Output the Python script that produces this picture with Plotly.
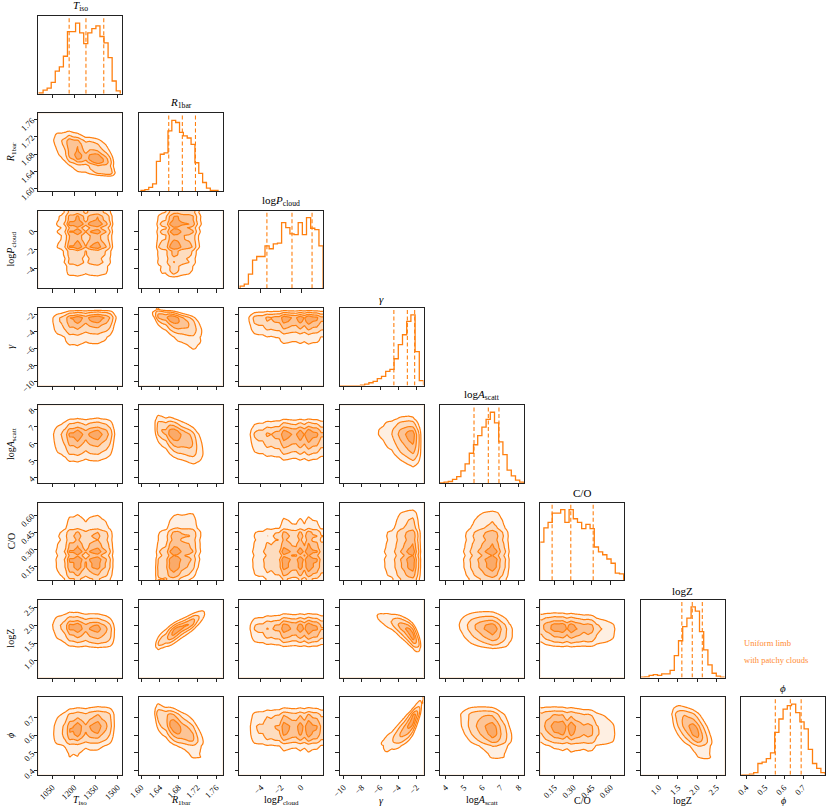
import math
import numpy as np
import plotly.graph_objects as go

ORANGE = "#ff7f0e"
FONT = "Liberation Serif, Times New Roman, serif"

# ---------------- data ----------------
param_labels = ["<i>T</i><sub>iso</sub>", "<i>R</i><sub>1bar</sub>", "log<i>P</i><sub>cloud</sub>",
                "<i>γ</i>", "log<i>A</i><sub>scatt</sub>", "C/O", "logZ", "<i>ϕ</i>"]

axis_ranges = [[953, 1533], [1.595, 1.774], [-6.17, 2.2], [-10.44, -1.23],
               [3.69, 8.27], [0.035, 0.71], [0.534, 2.71], [0.374, 0.816]]

tick_values = [[1050, 1200, 1350, 1500], [1.60, 1.64, 1.68, 1.72, 1.76], [-4, -2, 0],
               [-10, -8, -6, -4, -2], [4, 5, 6, 7, 8], [0.15, 0.30, 0.45, 0.60],
               [1.0, 1.5, 2.0, 2.5], [0.4, 0.5, 0.6, 0.7]]
tick_texts = [["1050", "1200", "1350", "1500"], ["1.60", "1.64", "1.68", "1.72", "1.76"],
              ["−4", "−2", "0"], ["−10", "−8", "−6", "−4", "−2"], ["4", "5", "6", "7", "8"],
              ["0.15", "0.30", "0.45", "0.60"], ["1.0", "1.5", "2.0", "2.5"],
              ["0.4", "0.5", "0.6", "0.7"]]

hist_ranges = [[958, 1519], [1.600, 1.764], [-6.07, 2.2], [-10.44, -1.23],
               [3.69, 8.27], [0.03, 0.705], [0.534, 2.71], [0.374, 0.816]]

hist_T = [1, 5, 8, 16, 32, 38, 53, 88, 88, 100, 86, 71, 86, 92, 96, 81, 72, 51, 18, 4]
hist_R = [1, 2, 5, 10, 42, 52, 54, 85, 100, 97, 83, 78, 75, 66, 40, 25, 12, 4, 1, 1]
hist_logP = [3, 6, 20, 40, 45, 45, 60, 56, 63, 64, 93, 86, 77, 76, 93, 76, 100, 85, 83, 60]
hist_gamma = [0, 0, 0, 0, 0, 0.5, 2, 4, 6, 10, 13, 20, 23, 38, 58, 72, 91, 100, 48, 7]
hist_logA = [0, 1, 2, 5, 9, 17, 27, 42, 54, 67, 79, 90, 100, 85, 58, 40, 18, 10, 4, 1]
hist_CO = [54, 74, 82, 95, 95, 100, 82, 100, 87, 82, 73, 79, 73, 47, 40, 36, 30, 24, 10, 9]
hist_logZ = [0.5, 1, 3, 4, 3, 5, 5, 10, 31, 52, 72, 84, 100, 94, 65, 39, 18, 6, 2, 0.5]
hist_phi = [0, 0, 1, 3, 16, 18, 23, 31, 60, 79, 93, 98, 100, 88, 75, 65, 36, 16, 9, 3]
hist_counts = [hist_T, hist_R, hist_logP, hist_gamma, hist_logA, hist_CO, hist_logZ, hist_phi]

quantiles = [[1166, 1282, 1405], [1.659, 1.688, 1.716], [-3.4, -0.9, 1.1], [-4.48, -3.0, -2.2],
             [5.55, 6.33, 6.91], [0.13, 0.28, 0.46], [1.60, 1.87, 2.13], [0.554, 0.633, 0.69]]

# pairwise correlations (row parameter vs column parameter), lower triangle
pair_corr = [
    [],
    [-0.5],
    [0.0, 0.1],
    [0.1, -0.6, 0.0],
    [0.05, -0.5, 0.0, -0.2],
    [0.0, 0.2, 0.0, 0.0, 0.0],
    [-0.15, 0.85, 0.0, -0.8, -0.2, -0.1],
    [0.15, -0.6, 0.0, 0.85, -0.3, -0.15, -0.6],
]

legend_lines = ["Uniform limb", "with patchy clouds"]

# ---------------- layout geometry (page pixels) ----------------
FW, FH = 830, 812
COL_X0, COL_STEP, PW = 38.3, 100.4, 84.0
ROW_Y0, ROW_STEP, PH = 16.0, 97.3, 77.7
NP = len(param_labels)


def px_x(x):
    return x / FW


def px_y(y):
    return 1 - y / FH


# ---------------- density helpers ----------------
z_tab = np.linspace(-7, 7, 2801)
phi_tab = 0.5 * (1 + np.array([math.erf(z / math.sqrt(2)) for z in z_tab]))


def norm_ppf(u):
    return np.interp(u, phi_tab, z_tab)


NG = 110
grids = [np.linspace(r[0], r[1], NG) for r in axis_ranges]


def marginal(p):
    g = grids[p]
    lo, hi = hist_ranges[p]
    c = np.array(hist_counts[p], float)
    n = len(c)
    w = (hi - lo) / n
    centers = lo + w * (np.arange(n) + 0.5)
    xp = np.concatenate([[lo], centers, [hi]])
    fp = np.concatenate([[c[0]], c, [c[-1]]])
    pdf = np.interp(g, xp, fp, left=0.0, right=0.0)
    pdf = np.where((g >= lo) & (g <= hi), pdf + 1e-3 * c.max(), 0.0)
    cdf = np.cumsum(pdf)
    cdf = cdf / cdf[-1]
    cdf = np.clip(cdf - 0.5 * pdf / pdf.sum(), 1e-6, 1 - 1e-6)
    return pdf, norm_ppf(cdf)


margs = [marginal(p) for p in range(NP)]


def sigma_map(i, j):
    fy, ay = margs[i]
    fx, ax = margs[j]
    r = pair_corr[i][j]
    A, B = np.meshgrid(ax, ay)
    c = np.exp(-(r * r * (A * A + B * B) - 2 * r * A * B) / (2 * (1 - r * r))) / math.sqrt(1 - r * r)
    f = c * fy[:, None] * fx[None, :]
    flat = f.ravel()
    order = np.argsort(-flat)
    cum = np.cumsum(flat[order])
    cum = cum / cum[-1]
    V = np.empty_like(cum)
    V[order] = cum
    V = np.clip(V, 0, 1 - 1e-9).reshape(f.shape)
    S = np.sqrt(-2 * np.log(1 - V))
    return np.minimum(S, 4.0)


# ---------------- build figure ----------------
fig = go.Figure()
layout = {}
annotations = []
k = 0
fill_scale = [[0.0, "rgb(250,170,105)"], [0.25, "rgb(252,196,150)"], [0.5, "rgb(253,220,191)"],
              [0.75, "rgb(254,239,226)"], [1.0, "rgb(255,255,255)"]]

for i in range(NP):
    for j in range(i + 1):
        k += 1
        xn = "x" if k == 1 else f"x{k}"
        yn = "y" if k == 1 else f"y{k}"
        xkey = "xaxis" if k == 1 else f"xaxis{k}"
        ykey = "yaxis" if k == 1 else f"yaxis{k}"
        x0 = COL_X0 + j * COL_STEP
        y0 = ROW_Y0 + i * ROW_STEP
        common = dict(showline=True, mirror=True, linecolor="#222", linewidth=1,
                      ticks="outside", ticklen=3.5, tickwidth=1, tickcolor="#222",
                      showgrid=False, zeroline=False, fixedrange=True, automargin=False,
                      tickfont=dict(family=FONT, size=8.5, color="black"), tickangle=-45)
        xa = dict(common, domain=[px_x(x0), px_x(x0 + PW)], anchor=yn,
                  range=axis_ranges[j], tickvals=tick_values[j], ticktext=tick_texts[j],
                  showticklabels=(i == NP - 1))
        if i == j:
            cmax = max(hist_counts[i])
            ya = dict(common, domain=[px_y(y0 + PH), px_y(y0)], anchor=xn,
                      range=[0, 1.1 * cmax], ticks="", showticklabels=False)
            lo, hi = hist_ranges[i]
            n = len(hist_counts[i])
            edges = [float(e) for e in np.linspace(lo, hi, n + 1)]
            hx = [edges[0]] + edges[:n] + [edges[n]]
            hy = [0] + list(hist_counts[i]) + [0]
            fig.add_trace(go.Scatter(x=hx, y=hy, mode="lines", line=dict(color=ORANGE, width=1.3, shape="hv"),
                                     xaxis=xn, yaxis=yn, hoverinfo="skip", showlegend=False))
            for q in quantiles[i]:
                fig.add_trace(go.Scatter(x=[q, q], y=[0, 1.1 * cmax], mode="lines",
                                         line=dict(color=ORANGE, width=1.1, dash="4px,2.5px"),
                                         xaxis=xn, yaxis=yn, hoverinfo="skip", showlegend=False))
            annotations.append(dict(text=param_labels[i], x=px_x(x0 + PW / 2), y=px_y(y0 - 1.0),
                                    xref="paper", yref="paper", xanchor="center", yanchor="bottom",
                                    showarrow=False, font=dict(family=FONT, size=11, color="black")))
        else:
            ya = dict(common, domain=[px_y(y0 + PH), px_y(y0)], anchor=xn,
                      range=axis_ranges[i], tickvals=tick_values[i], ticktext=tick_texts[i],
                      showticklabels=(j == 0))
            S = sigma_map(i, j)
            fig.add_trace(go.Contour(x=[float(v) for v in grids[j]], y=[float(v) for v in grids[i]],
                                     z=np.round(S, 4).tolist(), autocontour=False,
                                     contours=dict(start=0.5, end=2.0, size=0.5, coloring="fill"),
                                     colorscale=fill_scale, showscale=False,
                                     line=dict(color=ORANGE, width=1.2, smoothing=1),
                                     xaxis=xn, yaxis=yn, hoverinfo="skip"))
        layout[xkey] = xa
        layout[ykey] = ya
        if i == NP - 1:
            annotations.append(dict(text=param_labels[j], x=px_x(x0 + PW / 2), y=px_y(800),
                                    xref="paper", yref="paper", xanchor="center", yanchor="middle",
                                    showarrow=False, font=dict(family=FONT, size=10, color="black")))
        if j == 0 and i > 0:
            annotations.append(dict(text=param_labels[i], x=px_x(11), y=px_y(y0 + PH / 2),
                                    xref="paper", yref="paper", xanchor="center", yanchor="middle",
                                    textangle=-90, showarrow=False,
                                    font=dict(family=FONT, size=10, color="black")))

for n_line, txt in enumerate(legend_lines):
    annotations.append(dict(text=txt, x=px_x(742), y=px_y(643 + 17 * n_line), xref="paper", yref="paper",
                            xanchor="left", yanchor="middle", showarrow=False,
                            font=dict(family=FONT, size=8.5, color="rgb(255,140,50)")))

fig.update_layout(width=FW, height=FH, margin=dict(l=0, r=0, t=0, b=0),
                  paper_bgcolor="white", plot_bgcolor="white", showlegend=False,
                  annotations=annotations, **layout)

fig.write_html("out.html", config={"displayModeBar": False},
               post_script="document.body.style.margin='0px';document.body.style.overflow='hidden';")
